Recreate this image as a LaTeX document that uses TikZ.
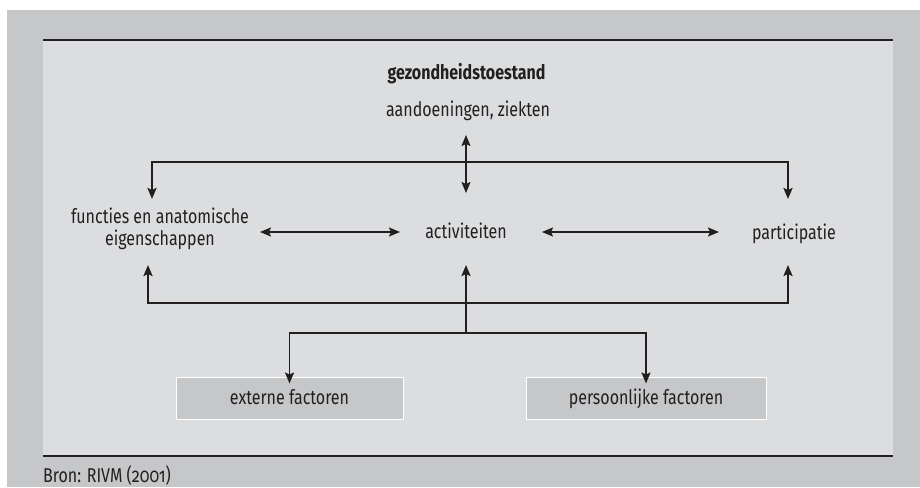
\documentclass[tikz,border=0pt]{standalone}
\usepackage{fontspec}
\setmainfont{Fira Sans}[Numbers=OldStyle, FakeStretch=0.8]
\usetikzlibrary{arrows.meta}
\definecolor{outergrey}{HTML}{C6C7C9}
\definecolor{panelgrey}{HTML}{DCDDDF}
\definecolor{ink}{HTML}{231F20}
\tikzset{
  lbl/.style={inner sep=0pt, anchor=base, text=ink, font=\fontsize{20}{21.5}\selectfont},
  factorbox/.style={draw=white, line width=1pt, fill=outergrey, minimum height=42pt, inner sep=0pt},
  tip/.style={},
  bracket/.style={draw=ink, line width=2.2pt, -{Stealth[length=11pt,width=9pt,inset=2pt]}},
  bracketboth/.style={draw=ink, line width=2.2pt, {Stealth[length=11pt,width=9pt,inset=2pt]}-{Stealth[length=11pt,width=9pt,inset=2pt]}},
  dbl/.style={draw=ink, line width=1.5pt, {Stealth[length=11pt,width=9pt,inset=2pt]}-{Stealth[length=11pt,width=9pt,inset=2pt]}},
  rule/.style={draw=ink, line width=1.6pt}
}
\begin{document}
\begin{tikzpicture}[x=1pt,y=-1pt]
\useasboundingbox (0,0) rectangle (920,487);
\fill[white] (0,0) rectangle (920,487);
\fill[outergrey] (7,10) rectangle (920,487);
\fill[panelgrey] (43,40) rectangle (893,456);
\draw[rule] (43,40) -- (893,40);
\draw[rule] (43,456) -- (893,456);

% texts
\node[lbl, font=\fontsize{20}{21.5}\selectfont\bfseries] (title) at (466.5,79) {gezondheidstoestand};
\node[lbl] (ziek) at (468,116) {aandoeningen, ziekten};
\node[lbl, align=center, anchor=north] (func) at (160,208) {functies en anatomische\\eigenschappen};
\node[lbl] (act) at (466,238) {activiteiten};
\node[lbl] (part) at (794,239) {participatie};
\node[factorbox, minimum width=227pt] (ext) at (289.5,398) {};
\node[lbl] at ([yshift=-6.5pt]ext.center) {externe factoren};
\node[factorbox, minimum width=240pt] (pers) at (646,398) {};
\node[lbl] at ([yshift=-6.5pt]pers.center) {persoonlijke factoren};
\node[lbl, anchor=base west] (bron) at (43,482) {Bron: RIVM (2001)};

% connector coordinates
\coordinate (ftop) at (152,199);
\coordinate (ptop) at (788,199);
\coordinate (fbot) at (148,265);
\coordinate (pbot) at (788,265);
\coordinate (abot) at (466,265);
\coordinate (zb) at (466,135);
\coordinate (at) at (466,193);
\coordinate (hub) at (466,333);

% top bracket
\draw[bracketboth] (ftop) -- (152,162) -- (788,162) -- (ptop);
% vertical double arrow
\draw[dbl] (zb) -- (at);
% horizontal double arrows
\draw[dbl] (260,232) -- (400,232);
\draw[dbl] (542,232) -- (719,232);
% bottom bracket
\draw[bracketboth] (fbot) -- (148,303) -- (788,303) -- (pbot);
\draw[bracket] (hub) -- (abot);
% branch to factors
\draw[bracketboth, line width=1.8pt] ([yshift=-7pt]ext.north) -- (289.5,333) -- (646,333) -- ([yshift=-7pt]pers.north);
\end{tikzpicture}
\end{document}
